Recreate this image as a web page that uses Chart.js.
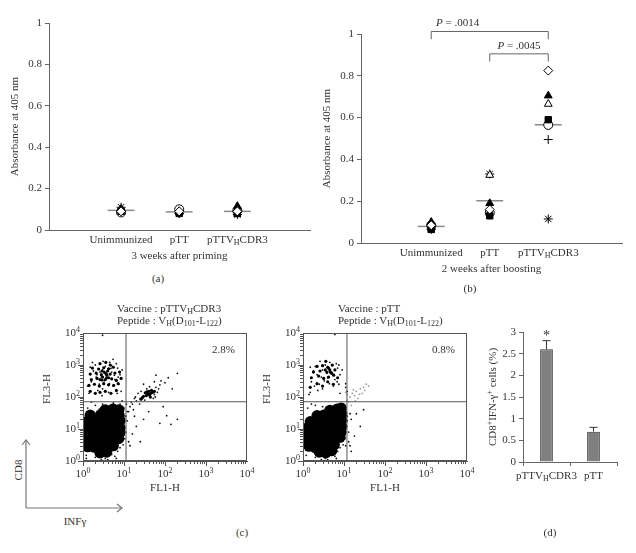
<!DOCTYPE html>
<html>
<head>
<meta charset="utf-8">
<script src="https://cdn.jsdelivr.net/npm/chart.js@4.4.0/dist/chart.umd.min.js"></script>
<style>
body { margin: 0; background: #fff; width: 636px; height: 553px; position: relative; overflow: hidden;
       font-family: "Liberation Serif", "DejaVu Serif", serif; color: #333; }
canvas { position: absolute; }
.t { position: absolute; font-size: 11px; line-height: 12px; white-space: nowrap; }
.c { transform: translate(-50%, -50%); }
sub { font-size: 8px; vertical-align: -2px; line-height: 0; }
</style>
</head>
<body>
<canvas id="chartA" width="320" height="270" style="left:0;top:0"></canvas>
<canvas id="chartB" width="316" height="282" style="left:320px;top:0"></canvas>
<canvas id="flowL" width="225" height="178" style="left:30px;top:325px"></canvas>
<canvas id="flowR" width="225" height="178" style="left:250px;top:325px"></canvas>
<canvas id="chartD" width="166" height="170" style="left:470px;top:320px"></canvas>

<div class="t c" style="left:158px;top:278px">(a)</div>
<div class="t c" style="left:470px;top:288px">(b)</div>
<div class="t c" style="left:242px;top:532px">(c)</div>
<div class="t c" style="left:550px;top:532px">(d)</div>
<div class="t" style="left:117px;top:302px">Vaccine : pTTV<sub>H</sub>CDR3<br>Peptide : V<sub>H</sub>(D<sub>101</sub>-L<sub>122</sub>)</div>
<div class="t" style="left:338px;top:302px">Vaccine : pTT<br>Peptide : V<sub>H</sub>(D<sub>101</sub>-L<sub>122</sub>)</div>
<div class="t c" style="left:18px;top:470px;transform:translate(-50%,-50%) rotate(-90deg)">CD8</div>
<div class="t c" style="left:75px;top:521px">INFγ</div>
<svg style="position:absolute;left:0;top:430px" width="140" height="90">
  <g stroke="#777" stroke-width="1.2" fill="none">
    <line x1="26" y1="78" x2="26" y2="10"/>
    <polyline points="22,15 26,10 30,15"/>
    <line x1="26" y1="78" x2="122" y2="78"/>
    <polyline points="117,74 122,78 117,82"/>
  </g>
</svg>

<script>
const SERIF = '"Liberation Serif", "DejaVu Serif", serif';
Chart.defaults.font.family = SERIF;
Chart.defaults.font.size = 11;
Chart.defaults.color = '#333';

// ---- (a) / (b): absorbance per mouse, one entry per mouse (same order in every group)
const groups = ['Unimmunized', 'pTT', 'pTTV_{H}CDR3'];
const primeUnimmunized = [0.09, 0.10, 0.10, 0.09, 0.085, 0.095, 0.11, 0.09];
const primePTT         = [0.09, 0.085, 0.09, 0.08, 0.10, 0.08, 0.08, 0.095];
const primeVH          = [0.09, 0.115, 0.10, 0.08, 0.095, 0.085, 0.075, 0.08];
const boostUnimmunized = [0.085, 0.10, 0.095, 0.065, 0.085, 0.07, 0.065, 0.07];
const boostPTT         = [0.16, 0.19, 0.325, 0.13, 0.145, 0.135, 0.33, null];
const boostVH          = [0.825, 0.705, 0.665, 0.59, 0.565, 0.495, 0.115, null];
const pValues = ['.0014', '.0045'];

// ---- (c): flow cytometry events (FL1-H, FL3-H)
const gateVH = [11.2, 71];
const gatePTT = [11.8, 71];
const pctVH = '2.8%';
const pctPTT = '0.8%';

const coreVH = [[1.3,2.8],[1.9,2.7],[2.8,2.9],[4.1,2.8],[5.5,3],
  [1.25,4.5],[1.85,4.4],[2.7,4.6],[4,4.5],[5.9,4.8],[7.4,5],
  [1.25,7],[1.85,7.2],[2.75,7],[4.1,7.1],[6,7.3],[7.9,7.5],
  [1.25,11],[1.9,11.5],[2.8,11],[4.1,11.2],[6,11.5],[8,11],
  [1.3,17.5],[1.9,18],[2.8,17.8],[4.1,18],[6,17.5],[8,18.5],
  [1.5,27],[2.7,28],[4,28.5],[6,29],[7.6,27],
  [3.5,40],[5.4,42],[7.5,40],[2.6,1.8],[3.8,1.9],[3.2,2.2]];
const midVH = [[1.5,150],[2,130],[2.6,140],[3.5,150],[4.8,130],[6.5,160],
  [1.4,230],[1.9,250],[2.5,220],[3.2,260],[4.2,240],[5.6,230],[7.2,260],
  [1.6,350],[2.2,380],[2.9,340],[3.8,400],[5,370],[6.5,330],[8.5,380],
  [1.5,520],[2.1,560],[2.8,500],[3.6,540],[4.6,520],[6,560],[7.8,600],
  [1.7,800],[2.4,750],[3.2,820],[4.2,760],[5.5,850],[2.6,1100],[3.6,1200],[4.6,1000],
  [3,420],[3.8,480],[3.3,600],[2.6,350],[4.2,400],[3.5,350],[2.9,650],[4,650],
  [35,110],[45,130],[40,150],[30,105],[50,140],[38,125],[42,115],[33,135],[47,160],[28,95],
  [55,150],[36,145],[26,85],[44,100]];
const dotsVH = [[1.6,300],[2.2,500],[3,700],[4,400],[5,600],[2.5,250],[3.5,900],[6,350],[7,800],[2,1000],
  [4.5,1200],[3,180],[5.5,220],[8,500],[1.8,650],[2.8,420],[3.8,550],[6.5,1100],[2.3,160],[4.2,140],
  [7.5,250],[1.5,850],[3.3,320],[5,950],[9,700],[2.6,600],[3.6,380],[4.8,780],[2.1,420],[5.8,480],
  [3.1,1300],[1.4,130],[8.5,150],[2.9,110],[6.8,130],[4.4,260],[1.3,220],[7.2,420],[5.4,1500],[1.7,1200],
  [1.2,1.5],[2,1.3],[3,1.8],[3.5,1.2],[5,1.6],[2.4,2],[6,1.4],[4,1.1],[1.5,2.2],[7,2],[2.8,1.1],[5.5,2.4],
  [8,2.6],[1.3,45],[2,55],[3,60],[4,50],[5.5,65],[8,60],[1.6,70],[2.5,42],[10,45],[9.5,30],[11,25],[12,35],
  [10,12],[11,8],[12,18],[10.5,5],[9.5,3.2],[13,4],[1.1,3],[1.2,1.2],[6.5,1.2],[9,75],[11.5,60],
  [20,75],[25,90],[55,120],[60,200],[65,140],[42,210],[22,130],[52,90],[70,180],[30,250],[18,90],[15,70],
  [24,60],[14,50],[17,40],[13,35],[16,60],[19,100],[26,150],[36,180],[58,100],[44,95],[75,240],[55,300],[32,80],
  [120,400],[200,550],[100,280],[150,180],[80,320],[60,480],[110,26],[75,15],[200,20],[30,20],[20,12],[16,7],
  [40,35],[25,4],[3,8500],[14,3],[18,25],[140,14],[90,50]];

const corePTT = [[1.4,2.9],[2,2.6],[2.9,2.8],[4.2,3],[5.8,3.2],
  [1.25,4.6],[1.9,4.5],[2.8,4.7],[4.1,4.6],[6,5],[8,5.5],
  [1.25,7.2],[1.9,7],[2.8,7.3],[4.2,7.1],[6.1,7.5],[8.5,8],
  [1.3,11],[1.9,11.5],[2.9,11.2],[4.2,11.4],[6.2,11.6],[8.8,12],
  [1.5,17],[2.1,18],[3,17.6],[4.3,18],[6.2,18.5],[8.8,19],
  [2.2,26],[3.2,27],[4.6,28],[6.5,29],[8.8,30],
  [4.5,38],[6.8,42],[8.5,45],[2.5,1.9],[3.6,1.8],[5,2.1]];
const midPTT = [[1.5,200],[2.2,260],[3,220],[4,300],[5.5,250],
  [1.6,400],[2.4,450],[3.2,380],[4.2,420],[5.6,480],[7,400],
  [1.8,600],[2.6,650],[3.5,700],[4.6,600],[6,700],
  [2.2,900],[3,950],[4,850],[5.2,1000],[3.6,1300],
  [4.5,700],[3.8,600],[4.2,800],[5,550]];
const dotsPTT = [[1.6,300],[2.2,500],[3,700],[4,400],[5,600],[2.5,250],[3.5,1000],[6,350],[7,800],[2,900],
  [4.5,1200],[3,180],[5.5,220],[8,500],[1.8,650],[2.8,420],[3.8,550],[6.5,1100],[2.3,160],[7.5,250],
  [1.5,850],[3.3,320],[5,950],[9,700],[2.6,1300],[1.4,120],[8,130],[6.8,300],[1.9,220],[4.4,260],[1.5,140],[7.5,1000],
  [1.2,1.5],[2,1.3],[3,1.8],[3.5,1.2],[5,1.6],[2.4,2],[6,1.4],[4,1.1],[1.5,2.2],[7,2],[2.8,1.1],[5.5,2.4],
  [8,2.6],[1.3,45],[2,55],[3,50],[5,45],[8,50],[1.6,60],[11,40],[12,25],[11.5,12],[13,8],[12,18],[10.5,5],
  [9.5,3.2],[13,4],[1.1,3],[6.5,1.2],[14,30],[11,3],
  [20,30],[15,20],[25,12],[18,6],[30,40],[14,3],[6,9000],[11,200],[11,260],[12,150],[15,2]];
const grayPTT = [[10,60],[12,80],[14,100],[16,130],[20,150],[25,180],[30,200],[18,110],[13,70],[22,90],
  [11,140],[35,250],[28,130],[15,55],[40,220],[24,120],[19,75],[32,160],[17,170],[12,120]];

// ---- (d): % CD8+ IFN-g+ cells
const barLabels = ['pTTV_{H}CDR3', 'pTT'];
const barValues = [2.6, 0.7];
const barErrors = [0.2, 0.1];

// marker per mouse: [pointStyle, filled]
const mouseStyle = [['rectRot', false], ['triangle', true], ['triangle', false], ['rect', true],
  ['circle', false], ['cross', false], ['star', false], ['rect', false]];

const plainNum = v => String(+v.toFixed(2));

// text with _{sub} ^{sup} *{italic}
function parseRich(s) {
  const out = [];
  const re = /([_^*])\{([^}]*)\}|([^_^*]+)/g;
  let m;
  while ((m = re.exec(s))) out.push(m[3] ? { t: m[3], k: '' } : { t: m[2], k: m[1] });
  return out;
}
function drawRich(ctx, s, x, y, size, align) {
  const parts = parseRich(s);
  const font = k => (k === '*' ? 'italic ' : '') + (k === '_' || k === '^' ? Math.round(size * 0.72) : size) + 'px ' + SERIF;
  let w = 0;
  parts.forEach(p => { ctx.font = font(p.k); p.w = ctx.measureText(p.t).width; w += p.w; });
  let cx = align === 'center' ? x - w / 2 : align === 'right' ? x - w : x;
  ctx.textAlign = 'left';
  ctx.textBaseline = 'middle';
  parts.forEach(p => {
    ctx.font = font(p.k);
    const dy = p.k === '_' ? size * 0.28 : p.k === '^' ? -size * 0.32 : 0;
    ctx.fillText(p.t, cx, y + dy);
    cx += p.w;
  });
}
function rotated(ctx, s, x, y) {
  ctx.save();
  ctx.translate(x, y);
  ctx.rotate(-Math.PI / 2);
  drawRich(ctx, s, 0, 0, 11, 'center');
  ctx.restore();
}

function dotPanel(id, cols, o) {
  const datasets = [];
  mouseStyle.forEach((st, m) => {
    datasets.push({
      data: cols.map((c, g) => ({ x: g + 1, y: c[m] })).filter(p => p.y != null),
      pointStyle: st[0], pointRadius: 4.5, borderWidth: 1, borderColor: '#000',
      backgroundColor: st[1] ? '#000' : '#fff'
    });
  });
  cols.forEach((c, g) => {
    const v = c.filter(n => n != null);
    const mean = v.reduce((s, n) => s + n, 0) / v.length;
    datasets.push({ data: [{ x: g + 0.77, y: mean }, { x: g + 1.23, y: mean }], showLine: true,
      pointRadius: 0, borderColor: '#8a8a8a', borderWidth: 1.5 });
  });
  return new Chart(document.getElementById(id), {
    type: 'scatter',
    data: { datasets },
    options: {
      responsive: false, animation: false, events: [], devicePixelRatio: 1,
      layout: { padding: { left: 0, top: o.top, right: o.right, bottom: 0 } },
      plugins: { legend: { display: false }, tooltip: { enabled: false } },
      scales: {
        x: { min: o.xmin, max: o.xmax, ticks: { display: false }, grid: { display: false },
             border: { color: '#666' }, afterFit: s => { s.height = o.xh; } },
        y: { min: 0, max: 1, ticks: { stepSize: 0.2, padding: 3, callback: plainNum },
             grid: { drawOnChartArea: false, tickLength: 4, color: '#666' },
             border: { color: '#666' }, afterFit: s => { s.width = o.yw; } }
      }
    },
    plugins: [{
      id: 'texts',
      afterDraw(chart) {
        const { ctx, chartArea: a, scales: { x, y } } = chart;
        ctx.save();
        ctx.fillStyle = '#333';
        groups.forEach((g, i) => drawRich(ctx, g, x.getPixelForValue(i + 1), a.bottom + 10, 11, 'center'));
        drawRich(ctx, o.caption, (a.left + a.right) / 2, a.bottom + 26, 11, 'center');
        rotated(ctx, 'Absorbance at 405 nm', a.left - 34, (a.top + a.bottom) / 2);
        (o.brackets || []).forEach(b => {
          const x1 = x.getPixelForValue(b.from), x2 = x.getPixelForValue(b.to);
          const yl = y.getPixelForValue(b.level), yd = y.getPixelForValue(b.level - 0.037);
          ctx.strokeStyle = '#666';
          ctx.lineWidth = 1;
          ctx.beginPath();
          ctx.moveTo(x1, yd); ctx.lineTo(x1, yl); ctx.lineTo(x2, yl); ctx.lineTo(x2, yd);
          ctx.stroke();
          drawRich(ctx, '*{P} = ' + b.p, x.getPixelForValue(b.textAt), yl - 8, 11, 'center');
        });
        ctx.restore();
      }
    }]
  });
}

dotPanel('chartA', [primeUnimmunized, primePTT, primeVH],
  { top: 23, right: 10, yw: 49, xh: 40, xmin: -0.24, xmax: 4.25, caption: '3 weeks after priming' });
dotPanel('chartB', [boostUnimmunized, boostPTT, boostVH],
  { top: 34, right: 14, yw: 41, xh: 39, xmin: -0.2, xmax: 4.26, caption: '2 weeks after boosting',
    brackets: [{ from: 1, to: 3, level: 1.012, p: pValues[0], textAt: 1.45 },
               { from: 2, to: 3, level: 0.905, p: pValues[1], textAt: 2.5 }] });

function pts(list) { return list.map(p => ({ x: p[0], y: p[1] })); }

function flowPanel(id, core, mid, dots, gray, gate, pct) {
  const dot = (list, r, col) => ({ data: pts(list), pointRadius: r, backgroundColor: col, borderWidth: 0, clip: 0 });
  const logAxis = (extra) => Object.assign({ type: 'logarithmic', min: 1, max: 10000, ticks: { display: false },
    grid: { display: false }, border: { color: '#555' } }, extra);
  return new Chart(document.getElementById(id), {
    type: 'scatter',
    data: { datasets: [
      { data: [{ x: gate[0], y: 1 }, { x: gate[0], y: 10000 }], showLine: true, pointRadius: 0, borderColor: '#555', borderWidth: 1 },
      { data: [{ x: 1, y: gate[1] }, { x: 10000, y: gate[1] }], showLine: true, pointRadius: 0, borderColor: '#555', borderWidth: 1 },
      dot(core, 5.6, '#000'),
      dot(mid, 1.6, '#000'),
      dot(dots, 0.9, '#111'),
      dot(gray, 0.9, '#999')
    ] },
    options: {
      responsive: false, animation: false, events: [], devicePixelRatio: 1,
      layout: { padding: { left: 0, top: 8, right: 8, bottom: 0 } },
      plugins: { legend: { display: false }, tooltip: { enabled: false } },
      scales: {
        x: logAxis({ afterFit: s => { s.height = 42; } }),
        y: logAxis({ afterFit: s => { s.width = 53; } })
      }
    },
    plugins: [{
      id: 'flowFrame',
      afterDraw(chart) {
        const { ctx, chartArea: a, scales: { x, y } } = chart;
        ctx.save();
        ctx.strokeStyle = '#555';
        ctx.lineWidth = 1;
        ctx.strokeRect(a.left + 0.5, a.top + 0.5, a.right - a.left - 1, a.bottom - a.top - 1);
        ctx.beginPath();
        for (let k = 0; k < 4; k++) {
          for (let m = 1; m <= 9; m++) {
            const v = m * Math.pow(10, k), len = m === 1 ? 5 : 3;
            const px = Math.round(x.getPixelForValue(v)) + 0.5, py = Math.round(y.getPixelForValue(v)) + 0.5;
            ctx.moveTo(px, a.bottom); ctx.lineTo(px, a.bottom + len);
            ctx.moveTo(a.left, py); ctx.lineTo(a.left - len, py);
          }
        }
        ctx.stroke();
        ctx.fillStyle = '#333';
        for (let k = 0; k <= 4; k++) {
          const v = Math.pow(10, k);
          drawRich(ctx, '10^{' + k + '}', x.getPixelForValue(v), a.bottom + 13, 11, 'center');
          drawRich(ctx, '10^{' + k + '}', a.left - 3, y.getPixelForValue(v), 11, 'right');
        }
        drawRich(ctx, 'FL1-H', (a.left + a.right) / 2, a.bottom + 27, 11, 'center');
        rotated(ctx, 'FL3-H', a.left - 36, (a.top + a.bottom) / 2 - 8);
        drawRich(ctx, pct, a.right - 12, a.top + 17, 11, 'right');
        ctx.restore();
      }
    }]
  });
}

flowPanel('flowL', coreVH, midVH, dotsVH, [], gateVH, pctVH);
flowPanel('flowR', corePTT, midPTT, dotsPTT, grayPTT, gatePTT, pctPTT);

new Chart(document.getElementById('chartD'), {
  type: 'bar',
  data: { labels: barLabels, datasets: [{
    data: barValues, backgroundColor: '#7f7f7f', borderColor: '#333', borderWidth: 1,
    barPercentage: 0.27, categoryPercentage: 1
  }] },
  options: {
    responsive: false, animation: false, events: [], devicePixelRatio: 1,
    layout: { padding: { left: 0, top: 12, right: 19, bottom: 0 } },
    plugins: { legend: { display: false }, tooltip: { enabled: false } },
    scales: {
      x: { ticks: { display: false }, grid: { drawOnChartArea: false, tickLength: 4, color: '#666' },
           border: { color: '#666' }, afterFit: s => { s.height = 28; } },
      y: { min: 0, max: 3, ticks: { stepSize: 0.5, padding: 3, callback: plainNum },
           grid: { drawOnChartArea: false, tickLength: 4, color: '#666' },
           border: { color: '#666' }, afterFit: s => { s.width = 53; } }
    }
  },
  plugins: [{
    id: 'errs',
    afterDatasetsDraw(chart) {
      const { ctx, chartArea: a, scales: { x, y } } = chart;
      const meta = chart.getDatasetMeta(0);
      ctx.save();
      ctx.strokeStyle = '#333';
      ctx.lineWidth = 1;
      meta.data.forEach((bar, i) => {
        const top = y.getPixelForValue(barValues[i] + barErrors[i]);
        ctx.beginPath();
        ctx.moveTo(bar.x, bar.y); ctx.lineTo(bar.x, top);
        ctx.moveTo(bar.x - 4, top); ctx.lineTo(bar.x + 4, top);
        ctx.stroke();
      });
      ctx.fillStyle = '#333';
      ctx.font = '14px ' + SERIF;
      ctx.textAlign = 'center';
      ctx.textBaseline = 'middle';
      ctx.fillText('*', meta.data[0].x, y.getPixelForValue(barValues[0] + barErrors[0]) - 4);
      barLabels.forEach((l, i) => drawRich(ctx, l, x.getPixelForValue(i), a.bottom + 14, 11, 'center'));
      rotated(ctx, 'CD8^{+}IFN-γ^{+} cells (%)', a.left - 30, (a.top + a.bottom) / 2);
      ctx.restore();
    }
  }]
});
</script>
</body>
</html>
